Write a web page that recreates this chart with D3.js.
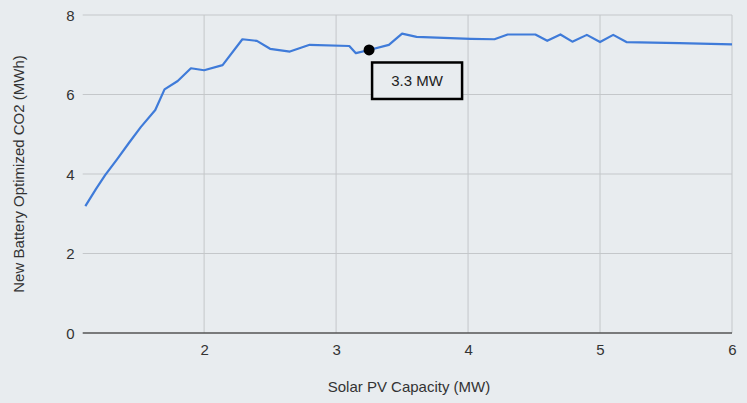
<!DOCTYPE html>
<html><head><meta charset="utf-8">
<script src="https://cdn.jsdelivr.net/npm/d3@7"></script>
<style>
html,body{margin:0;padding:0;background:#e8ecef;}
text{font-family:Arial,"Liberation Sans",sans-serif;}
</style></head>
<body>
<svg id="chart" width="747" height="403"></svg>
<script>
const capacity = [1.1,1.18,1.25,1.34,1.43,1.52,1.63,1.7,1.8,1.9,2.0,2.14,2.29,2.4,2.5,2.65,2.8,3.1,3.15,3.25,3.4,3.5,3.61,4.02,4.2,4.3,4.51,4.6,4.7,4.79,4.9,5.0,5.1,5.2,5.6,6.0];
const co2 = [3.19,3.62,3.97,4.37,4.78,5.18,5.61,6.13,6.34,6.66,6.61,6.74,7.39,7.35,7.15,7.08,7.25,7.22,7.04,7.12,7.25,7.53,7.45,7.40,7.39,7.51,7.51,7.35,7.51,7.33,7.50,7.32,7.50,7.32,7.29,7.26];
const xTicks = [2,3,4,5,6];
const yTicks = [0,2,4,6,8];
const marker = {x:3.25, y:7.12, label:"3.3 MW"};

const svg = d3.select("#chart");
const m = {left:82.7, right:15, top:15, bottom:70};
const W = 747, H = 403;
const x = d3.scaleLinear().domain([1.08,6]).range([m.left, W-m.right]);
const y = d3.scaleLinear().domain([0,8]).range([H-m.bottom, m.top]);

const g = svg.append("g");
g.selectAll(".hg").data(yTicks.filter(d=>d!==0)).join("line")
  .attr("x1",x.range()[0]).attr("x2",x.range()[1])
  .attr("y1",d=>y(d)).attr("y2",d=>y(d))
  .attr("stroke","#c4c7ca").attr("stroke-width",1);
g.selectAll(".vg").data(xTicks).join("line")
  .attr("x1",d=>x(d)).attr("x2",d=>x(d))
  .attr("y1",y(8)).attr("y2",y(0))
  .attr("stroke","#c4c7ca").attr("stroke-width",1);
g.append("line").attr("x1",x.range()[0]).attr("x2",x.range()[1])
  .attr("y1",y(0)).attr("y2",y(0)).attr("stroke","#555").attr("stroke-width",1.5);

const yAxis = d3.axisLeft(y).tickValues(yTicks).tickFormat(d3.format("d")).tickSize(0).tickPadding(0);
const ya = svg.append("g").attr("transform",`translate(${m.left-8},0)`).call(yAxis);
ya.select(".domain").remove();
ya.selectAll("text").attr("font-size",15).attr("fill","#333").attr("dy","0.35em")
  .style("font-family","Arial, 'Liberation Sans', sans-serif");
const xAxis = d3.axisBottom(x).tickValues(xTicks).tickFormat(d3.format("d")).tickSize(0).tickPadding(0);
const xa = svg.append("g").attr("transform",`translate(0,${y(0)+11})`).call(xAxis);
xa.select(".domain").remove();
xa.selectAll("text").attr("font-size",15).attr("fill","#333").attr("dy","0.71em")
  .style("font-family","Arial, 'Liberation Sans', sans-serif");

const data = capacity.map((c,i)=>({x:c,y:co2[i]}));
svg.append("path").datum(data)
  .attr("fill","none").attr("stroke","#3f7bd9").attr("stroke-width",2.2)
  .attr("stroke-linejoin","round")
  .attr("d",d3.line().x(d=>x(d.x)).y(d=>y(d.y)));

svg.append("circle").attr("cx",x(marker.x)).attr("cy",y(marker.y)).attr("r",5.5).attr("fill","#000");
const bx = x(marker.x)+3, by = y(marker.y)+12.5;
svg.append("rect").attr("x",bx).attr("y",by).attr("width",90).attr("height",36.5)
  .attr("fill","#e8ecef").attr("stroke","#000").attr("stroke-width",2.5);
svg.append("text").attr("x",bx+45).attr("y",by+18.5).attr("dy","0.35em")
  .attr("text-anchor","middle").attr("font-size",15).attr("fill","#222").text(marker.label);

svg.append("text").attr("x",409).attr("y",392)
  .attr("text-anchor","middle").attr("font-size",15).attr("fill","#333").text("Solar PV Capacity (MW)");
svg.append("text").attr("transform",`translate(24,${(y(0)+y(8))/2}) rotate(-90)`)
  .attr("text-anchor","middle").attr("font-size",15).attr("fill","#333").text("New Battery Optimized CO2 (MWh)");
</script>
</body></html>
